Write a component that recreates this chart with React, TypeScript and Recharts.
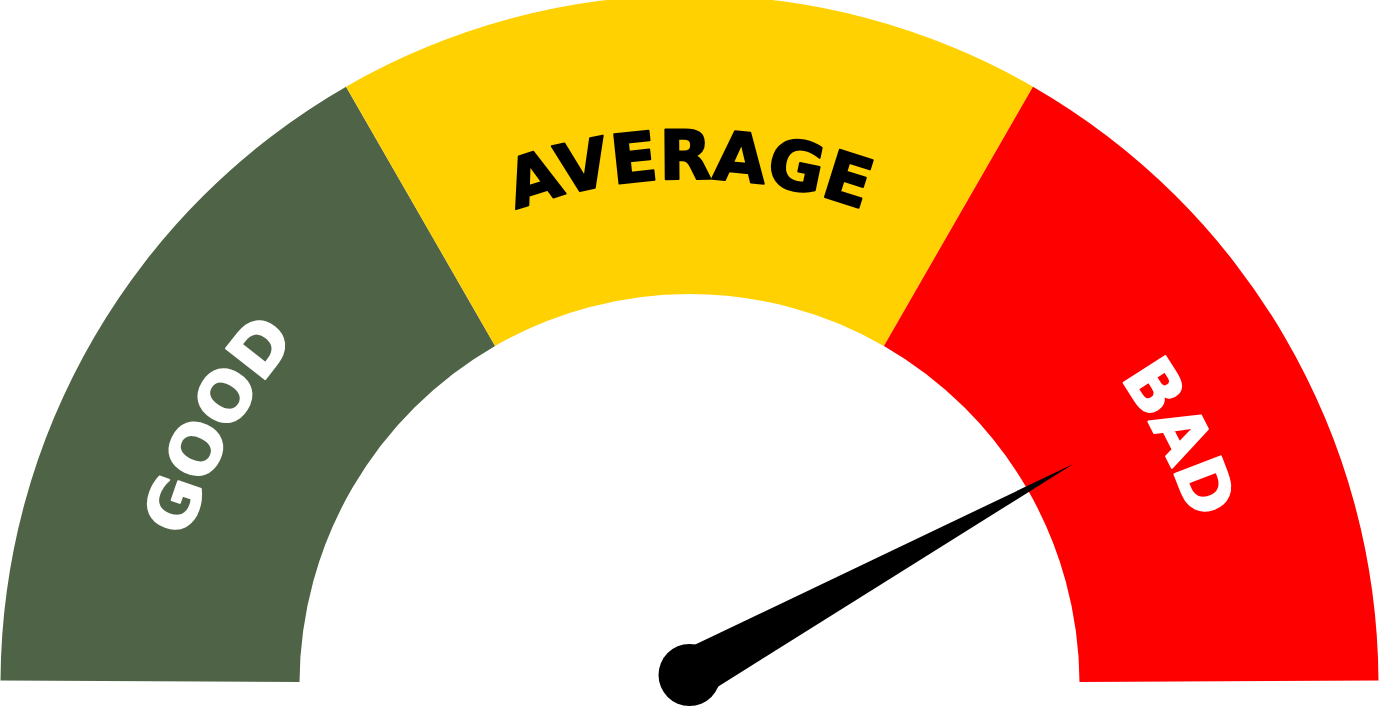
import React from 'react';
import { PieChart, Pie, Cell } from 'recharts';

// ---- data ----
const categories = ['GOOD', 'AVERAGE', 'BAD'];
const segmentValues = [1, 1, 1];
const needleValue = 84; // position of the pointer on a 0..100 scale
const gaugeMax = 100;

// ---- styles ----
const COLORS = ['#4F6446', '#FFD100', '#FF0000'];
const TEXT_COLORS = ['#FFFFFF', '#000000', '#FFFFFF'];
const LABEL_RADIUS = [522, 505, 528];
const LABEL_ANGLE_SHIFT = [1.5, 0, -3.5];

const W = 1380;
const H = 708;
const CX = 689.5;
const CY = 684;
const INNER = 390;
const OUTER = 689;

const data = categories.map((name, i) => ({ name, value: segmentValues[i] }));

const RAD = Math.PI / 180;

const Needle = ({ cx, cy }: { cx: number; cy: number }) => {
  const angle = 180 * (1 - needleValue / gaugeMax) * RAD;
  const px = cx;
  const py = cy - 9;
  const len = 438;
  const hw = 25;
  const tx = px + len * Math.cos(angle);
  const ty = py - len * Math.sin(angle);
  const sx = Math.sin(angle) * hw;
  const sy = Math.cos(angle) * hw;
  return (
    <g>
      <path d={`M ${px - sx} ${py - sy} L ${tx} ${ty} L ${px + sx} ${py + sy} Z`} fill="#000000" />
      <circle cx={px} cy={py} r={31} fill="#000000" />
    </g>
  );
};

const renderLabel = (props: any) => {
  const { cx, cy, midAngle, index } = props;
  const r = LABEL_RADIUS[index];
  const a = midAngle + LABEL_ANGLE_SHIFT[index];
  const a1 = (a + 45) * RAD;
  const a2 = (a - 45) * RAD;
  const x1 = cx + r * Math.cos(a1);
  const y1 = cy - r * Math.sin(a1);
  const x2 = cx + r * Math.cos(a2);
  const y2 = cy - r * Math.sin(a2);
  const id = `gauge-label-path-${index}`;
  return (
    <g key={id}>
      <defs>
        <path id={id} d={`M ${x1} ${y1} A ${r} ${r} 0 0 1 ${x2} ${y2}`} fill="none" />
      </defs>
      <text
        fill={TEXT_COLORS[index]}
        stroke={TEXT_COLORS[index]}
        strokeWidth={2}
        strokeLinejoin="round"
        fontFamily="'DejaVu Sans', sans-serif"
        fontWeight="bold"
        fontSize={68}
      >
        <textPath href={`#${id}`} startOffset="50%" textAnchor="middle">
          {categories[index]}
        </textPath>
      </text>
      {index === categories.length - 1 ? <Needle cx={cx} cy={cy} /> : null}
    </g>
  );
};

export default function App() {
  return (
    <div style={{ position: 'absolute', left: 0, top: 0, width: W, height: H, background: '#FFFFFF' }}>
      <PieChart width={W} height={H} margin={{ top: 0, right: 0, bottom: 0, left: 0 }}>
        <Pie
          data={data}
          dataKey="value"
          nameKey="name"
          cx={CX}
          cy={CY}
          innerRadius={INNER}
          outerRadius={OUTER}
          startAngle={179.7}
          endAngle={0.3}
          stroke="none"
          isAnimationActive={false}
          label={renderLabel}
          labelLine={false}
        >
          {data.map((d, i) => (
            <Cell key={d.name} fill={COLORS[i]} />
          ))}
        </Pie>
      </PieChart>
    </div>
  );
}
